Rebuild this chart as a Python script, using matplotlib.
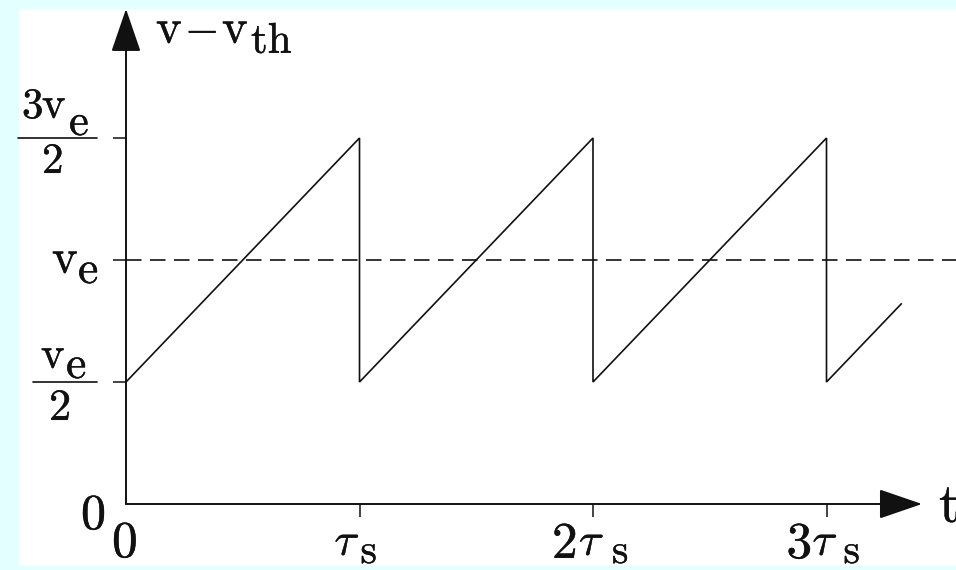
import numpy as np
import matplotlib.pyplot as plt
import matplotlib.patheffects as pe
from matplotlib.patches import Rectangle

plt.rcParams['mathtext.fontset'] = 'cm'

# data, voltages in units of v_e, time in units of tau_s
t_saw = [0, 1, 1, 2, 2, 3, 3, 3.32]
v_saw = [0.5, 1.5, 0.5, 1.5, 0.5, 1.5, 0.5, 0.82]
v_level = 1.0
y_ticks = [0.5, 1.0, 1.5]
x_ticks = [1, 2, 3]
y_top = 2.029
t_end = 3.409

# label pieces: (text, dx, dy, size) in pixels from the tick point
y_pieces = {
    1.5: [(r'$3$', -104, 20, 31), (r'$\mathrm{v}$', -84, 20, 32),
          (r'$\mathrm{e}$', -57, 3, 32), (r'$2$', -84, -35, 31)],
    1.0: [(r'$\mathrm{v}$', -74, -13, 35), (r'$\mathrm{e}$', -48, -23, 33)],
    0.5: [(r'$\mathrm{v}$', -85, 14, 32), (r'$\mathrm{e}$', -60, 4, 33),
          (r'$2$', -77, -38, 32)],
}
y_bars = {1.5: (-108, -29), 0.5: (-93, -29)}
x_pieces = {
    1: [(r'$\tau$', -25, -51, 33), (r'$\mathrm{s}$', 1, -59, 30)],
    2: [(r'$2$', -41, -54, 37), (r'$\tau$', -14, -51, 33), (r'$\mathrm{s}$', 19, -59, 30)],
    3: [(r'$3$', -40, -54, 37), (r'$\tau$', -14, -51, 33), (r'$\mathrm{s}$', 17, -59, 30)],
}
# y axis title pieces, offsets from the origin
title_pieces = [(r'$\mathrm{v}$', 30, 461, 35), (r'$-$', 59, 461, 32),
                (r'$\mathrm{v}$', 96, 461, 35), (r'$\mathrm{th}$', 125, 451, 31)]

fig = plt.figure(figsize=(9.56, 5.70), dpi=100, facecolor='#E3FFFF')
fig.patches.append(Rectangle((19 / 956, 4 / 570), 1 - 19 / 956, 557 / 570,
                             transform=fig.transFigure, facecolor='white',
                             edgecolor='none', zorder=-10))
ax = fig.add_axes([0, 0, 1, 1])
ax.patch.set_visible(False)
ax.set_xlim(-126 / 233.5, 830 / 233.5)
ax.set_ylim(-66 / 244, 504 / 244)

for s in ax.spines.values():
    s.set_visible(False)
ax.spines['left'].set_position(('data', 0))
ax.spines['bottom'].set_position(('data', 0))
ax.set_xticks(x_ticks)
ax.set_yticks(y_ticks)
ax.tick_params(direction='out', length=9.5, width=1.1, color='#111111',
               labelleft=False, labelbottom=False)

bold = [pe.withStroke(linewidth=0.3, foreground='#111111')]

def put(s, x, y, dx, dy, size):
    ax.annotate(s, xy=(x, y), xytext=(dx, dy), textcoords='offset pixels',
                ha='left', va='baseline', fontsize=size, color='#111111',
                annotation_clip=False, path_effects=bold)

# axes with arrow heads
arrow = dict(arrowstyle='-|>,head_length=1.37,head_width=0.47', mutation_scale=20,
             shrinkA=0, shrinkB=0, lw=1.4, color='#111111')
ax.annotate('', xy=(0, y_top), xytext=(0, 0), arrowprops=arrow)
ax.annotate('', xy=(t_end, 0), xytext=(0, 0), arrowprops=arrow)

ax.plot(t_saw, v_saw, color='#111111', lw=1.2, solid_joinstyle='miter')
ax.hlines(v_level, 0, ax.get_xlim()[1], color='#111111', lw=1.2,
          linestyles=(0, (9.3, 5.1)))

for val, pieces in y_pieces.items():
    for s, dx, dy, size in pieces:
        put(s, 0, val, dx, dy, size)
for val, (a, b) in y_bars.items():
    ax.annotate('', xy=(0, val), xytext=(a, 0), textcoords='offset pixels',
                arrowprops=dict(arrowstyle='-', shrinkA=0, shrinkB=-b * 0.72,
                                lw=1.2, color='#111111'))
for val, pieces in x_pieces.items():
    for s, dx, dy, size in pieces:
        put(s, val, 0, dx, dy, size)
for s, dx, dy, size in title_pieces:
    put(s, 0, 0, dx, dy, size)

put(r'$0$', 0, 0, -45, -25, 36)
put(r'$0$', 0, 0, -14, -53, 37)
put(r'$\mathrm{t}$', 0, 0, 813, -18, 40)

fig.savefig('out.png', dpi=100, facecolor=fig.get_facecolor())
